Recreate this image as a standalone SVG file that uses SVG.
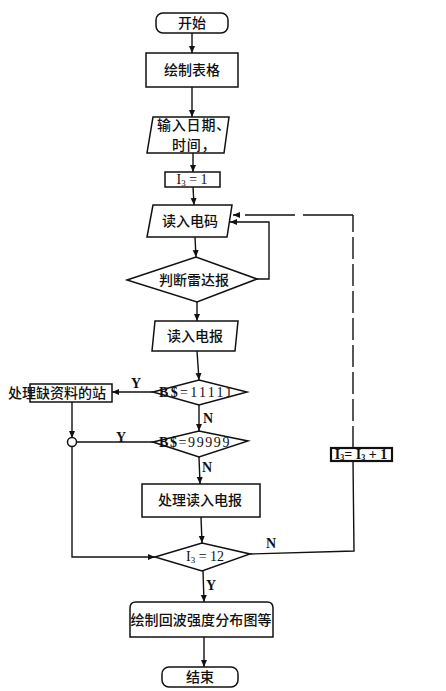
<svg xmlns="http://www.w3.org/2000/svg" width="446" height="691" viewBox="0 0 446 691">
<style>
.s{fill:none;stroke:#111;stroke-width:1.4}
.b{fill:#fff;stroke:#111;stroke-width:1.5}
.c{font-family:"Noto Sans CJK SC","Noto Sans CJK JP",sans-serif;font-size:14px;font-weight:500;fill:#111}
.l{font-family:"Liberation Serif",serif;font-size:14px;font-weight:bold;fill:#111}
.m{font-family:"Liberation Serif",serif;font-size:14px;fill:#111}
</style>
<defs>
<marker id="a" markerWidth="8" markerHeight="8" refX="7" refY="4" orient="auto" markerUnits="userSpaceOnUse">
<path d="M0,1 L7,4 L0,7 Z" fill="#111"/>
</marker>
</defs>
<rect width="446" height="691" fill="#fff"/>
<g id="connectors">
<line class="s" x1="192" y1="33" x2="192" y2="53" marker-end="url(#a)"/>
<line class="s" x1="192" y1="87" x2="192" y2="117" marker-end="url(#a)"/>
<line class="s" x1="193" y1="153" x2="193" y2="172" marker-end="url(#a)"/>
<line class="s" x1="193" y1="187" x2="194" y2="205" marker-end="url(#a)"/>
<line class="s" x1="195" y1="237" x2="196" y2="257" marker-end="url(#a)"/>
<polyline class="s" points="257,279 269,279 269,222 230,222" marker-end="url(#a)"/>
<line class="s" x1="197" y1="302" x2="197" y2="321" marker-end="url(#a)"/>
<line class="s" x1="197" y1="351" x2="199" y2="380" marker-end="url(#a)"/>
<line class="s" x1="153" y1="392" x2="112" y2="392" marker-end="url(#a)"/>
<line class="s" x1="199" y1="405" x2="199" y2="431" marker-end="url(#a)"/>
<line class="s" x1="72" y1="402" x2="72" y2="438" marker-end="url(#a)"/>
<line class="s" x1="153" y1="442" x2="76" y2="442"/>
<circle class="b" cx="72" cy="442" r="4.5"/>
<polyline class="s" points="72,446.5 72,557 155,557" marker-end="url(#a)"/>
<line class="s" x1="199" y1="457" x2="200" y2="484" marker-end="url(#a)"/>
<line class="s" x1="201" y1="517" x2="202" y2="543" marker-end="url(#a)"/>
<line class="s" x1="203" y1="571" x2="204" y2="602" marker-end="url(#a)"/>
<line class="s" x1="204" y1="637" x2="204" y2="667" marker-end="url(#a)"/>
<polyline class="s" points="250,554 354,551 353,461"/>
<line class="s" x1="353" y1="448" x2="353" y2="215" stroke-dasharray="22,5"/>
<line class="s" x1="353" y1="215" x2="233" y2="215" stroke-dasharray="50,8" marker-end="url(#a)"/>
<text class="l" x="131" y="388">Y</text>
<text class="l" x="116" y="442">Y</text>
<text class="l" x="203" y="423">N</text>
<text class="l" x="202" y="472">N</text>
<text class="l" x="266" y="548">N</text>
<text class="l" x="206" y="590">Y</text>
</g>
<g id="start">
<rect class="b" x="156" y="13" width="72" height="20" rx="7"/>
<text class="c" x="192" y="28" text-anchor="middle">开始</text>
</g>
<g id="draw-table">
<rect class="b" x="146" y="53" width="92" height="34"/>
<text class="c" x="192" y="75" text-anchor="middle">绘制表格</text>
</g>
<g id="input-date">
<polygon class="b" points="153,117 229,117 224,153 147,153"/>
<text class="c" font-size="11.5" letter-spacing="0.8"><tspan x="157" y="130">输入日期、</tspan><tspan x="172" y="149.5">时间，</tspan></text>
</g>
<g id="init">
<rect class="b" x="165" y="172" width="55" height="15"/>
<text class="m" x="192" y="184" text-anchor="middle">I<tspan font-size="9" dy="2">3</tspan><tspan dy="-2"> = 1</tspan></text>
</g>
<g id="read-code">
<polygon class="b" points="153,205 232,205 227,237 147,237"/>
<text class="c" x="190" y="226" text-anchor="middle">读入电码</text>
</g>
<g id="judge">
<polygon class="b" points="127,280 196,257 257,279 197,302"/>
<text class="c" x="194" y="285" text-anchor="middle">判断雷达报</text>
</g>
<g id="read-msg">
<polygon class="b" points="155,321 238,321 235,351 152,351"/>
<text class="c" x="195" y="341" text-anchor="middle">读入电报</text>
</g>
<g id="check-11111">
<polygon class="b" points="153,392 199,380 247,392 199,405"/>
<text class="m" x="159" y="397" letter-spacing="2.3"><tspan font-weight="bold">B$</tspan>=11111</text>
</g>
<g id="missing">
<rect class="b" x="30" y="384" width="82" height="18"/>
<text class="c" x="8" y="398" font-size="13">处理缺资料的站</text>
</g>
<g id="check-99999">
<polygon class="b" points="153,442 199,431 248,441 199,457"/>
<text class="m" x="159" y="447" letter-spacing="1.6"><tspan font-weight="bold">B$</tspan>=99999</text>
</g>
<g id="process">
<rect class="b" x="142" y="484" width="118" height="33"/>
<text class="c" x="200" y="505" text-anchor="middle">处理读入电报</text>
</g>
<g id="check-12">
<polygon class="b" points="155,557 202,543 250,554 202,571"/>
<text class="m" x="205" y="561" text-anchor="middle">I<tspan font-size="9" dy="2">3</tspan><tspan dy="-2"> = 12</tspan></text>
</g>
<g id="increment">
<rect x="331" y="448" width="61" height="13" fill="#fff" stroke="#111" stroke-width="2.2"/>
<text class="m" x="361" y="459" text-anchor="middle" font-size="11" font-weight="bold">I<tspan font-size="8" dy="1">3</tspan><tspan dy="-1">= I</tspan><tspan font-size="8" dy="1">3</tspan><tspan dy="-1"> + 1</tspan></text>
</g>
<g id="plot">
<path class="b" d="M130,637 L130,608 Q130,602 136,602 L267,602 Q273,602 273,608 L273,637 Z"/>
<text class="c" x="201" y="625" text-anchor="middle" textLength="141" lengthAdjust="spacing">绘制回波强度分布图等</text>
</g>
<g id="end">
<rect class="b" x="162" y="667" width="76" height="20" rx="7"/>
<text class="c" x="200" y="682" text-anchor="middle">结束</text>
</g>
</svg>
